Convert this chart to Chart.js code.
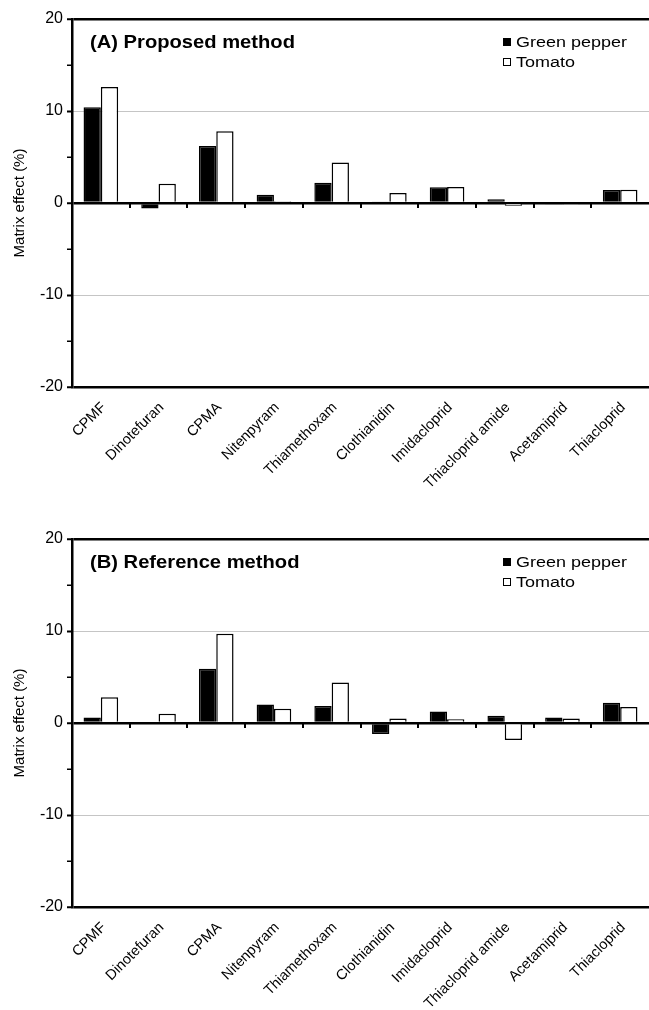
<!DOCTYPE html>
<html>
<head>
<meta charset="utf-8">
<script src="https://cdn.jsdelivr.net/npm/chart.js@4.4.1/dist/chart.umd.min.js"></script>
<style>
  html, body { margin: 0; padding: 0; background: #fff; overflow: hidden; }
  .panel { position: absolute; left: 0; width: 649px; height: 490px; }
  #wrapA { top: 0; }
  #wrapB { top: 520px; }
</style>
</head>
<body>
<div class="panel" id="wrapA"><canvas id="chartA"></canvas></div>
<div class="panel" id="wrapB"><canvas id="chartB"></canvas></div>
<script>
const compounds = ['CPMF', 'Dinotefuran', 'CPMA', 'Nitenpyram', 'Thiamethoxam', 'Clothianidin',
  'Imidacloprid', 'Thiacloprid amide', 'Acetamiprid', 'Thiacloprid'];
const seriesNames = ['Green pepper', 'Tomato'];
const proposedGreenPepper = [10.4, -0.6, 6.2, 0.9, 2.2, 0.1, 1.7, 0.4, -0.1, 1.4];
const proposedTomato = [12.6, 2.1, 7.8, 0.2, 4.4, 1.1, 1.75, -0.3, -0.1, 1.45];
const referenceGreenPepper = [0.6, 0, 5.9, 2.0, 1.85, -1.2, 1.25, 0.8, 0.6, 2.2];
const referenceTomato = [2.8, 1.0, 9.7, 1.55, 4.4, 0.5, 0.4, -1.85, 0.5, 1.75];
const yMin = -20, yMax = 20, yStep = 5;

Chart.defaults.font.family = '"Liberation Sans", Arial, Helvetica, sans-serif';
Chart.defaults.color = '#000';

// the original text is a bit wider than Arial, so stretch it sideways a little
const wideText = (ctx, text, x, y, sx) => {
  ctx.save();
  ctx.translate(x, y);
  ctx.scale(sx, 1);
  ctx.fillText(text, 0, 0);
  ctx.restore();
};

// panel title, legend and the little category ticks hanging under the zero line
const panelDecor = {
  id: 'panelDecor',
  afterDatasetsDraw(chart, args, opts) {
    const { ctx, scales: { x, y } } = chart;
    const y0 = y.getPixelForValue(0);
    const half = (x.getPixelForValue(1) - x.getPixelForValue(0)) / 2;
    ctx.save();
    ctx.strokeStyle = '#000';
    ctx.lineWidth = 2;
    for (let i = 0; i < compounds.length - 1; i++) {
      const px = Math.round(x.getPixelForValue(i) + half);
      ctx.beginPath();
      ctx.moveTo(px, y0);
      ctx.lineTo(px, y0 + 5);
      ctx.stroke();
    }
    ctx.fillStyle = '#000';
    ctx.font = 'bold 18px "Liberation Sans", Arial, sans-serif';
    ctx.textBaseline = 'alphabetic';
    wideText(ctx, opts.title, 90, 48, 1.12);

    ctx.font = '15.5px "Liberation Sans", Arial, sans-serif';
    ctx.lineWidth = 1;
    chart.data.datasets.forEach((ds, i) => {
      const ly = 42 + i * 20;
      ctx.fillStyle = ds.backgroundColor;
      ctx.fillRect(503.5, ly - 3.5, 7, 7);
      ctx.strokeRect(503.5, ly - 3.5, 7, 7);
      ctx.fillStyle = '#000';
      ctx.textBaseline = 'middle';
      wideText(ctx, ds.label, 516, ly + 1, 1.16);
    });
    ctx.restore();
  }
};

const buildChart = (canvasId, title, gp, tomato) => new Chart(document.getElementById(canvasId), {
  type: 'bar',
  data: {
    labels: compounds,
    datasets: [
      { label: seriesNames[0], data: gp, backgroundColor: '#000', borderColor: '#000', borderWidth: 1.5 },
      { label: seriesNames[1], data: tomato, backgroundColor: '#fff', borderColor: '#000', borderWidth: 1.5 },
    ],
  },
  options: {
    responsive: true,
    maintainAspectRatio: false,
    animation: false,
    layout: { padding: { top: 19, left: 0, right: 0, bottom: 0 } },
    datasets: { bar: { categoryPercentage: 0.6, barPercentage: 1.0 } },
    scales: {
      x: {
        grid: { display: false },
        border: { display: false },
        ticks: {
          autoSkip: false,
          minRotation: 45,
          maxRotation: 45,
          padding: 4,
          labelOffset: 3,
          font: { size: 14.5 },
          color: '#000',
        },
        afterFit: (scale) => { scale.height = 103; },
      },
      y: {
        min: yMin,
        max: yMax,
        ticks: {
          stepSize: yStep,
          padding: 4,
          font: { size: 16 },
          color: '#000',
          callback: (v) => (v % 10 === 0 ? v : ''),
        },
        border: {
          display: true,
          color: '#000',
          width: 2.5,
          dash: (c) => (c.tick && Math.abs(c.tick.value) === 10 ? [1, 1] : []),
        },
        grid: {
          drawOnChartArea: true,
          color: (c) => {
            const v = c.tick ? c.tick.value : null;
            if (v === 10 || v === -10) return '#8a8a8a';
            if (v === 0 || v === 20 || v === -20) return '#000';
            return 'rgba(0,0,0,0)';
          },
          lineWidth: (c) => {
            const v = c.tick ? c.tick.value : null;
            if (v === 10 || v === -10) return 1;
            return 2.5;
          },
          tickColor: '#000',
          tickLength: 5,
          tickWidth: (c) => (c.tick && c.tick.value % 10 === 0 ? 2 : 1.5),
        },
        title: {
          display: true,
          text: 'Matrix effect (%)',
          font: { size: 15 },
          color: '#000',
          padding: { top: 11, bottom: 0 },
        },
        afterFit: (scale) => { scale.width = 72; },
      },
    },
    plugins: {
      legend: { display: false },
      tooltip: { enabled: false },
      panelDecor: { title },
    },
  },
  plugins: [panelDecor],
});

buildChart('chartA', '(A) Proposed method', proposedGreenPepper, proposedTomato);
buildChart('chartB', '(B) Reference method', referenceGreenPepper, referenceTomato);
</script>
</body>
</html>
